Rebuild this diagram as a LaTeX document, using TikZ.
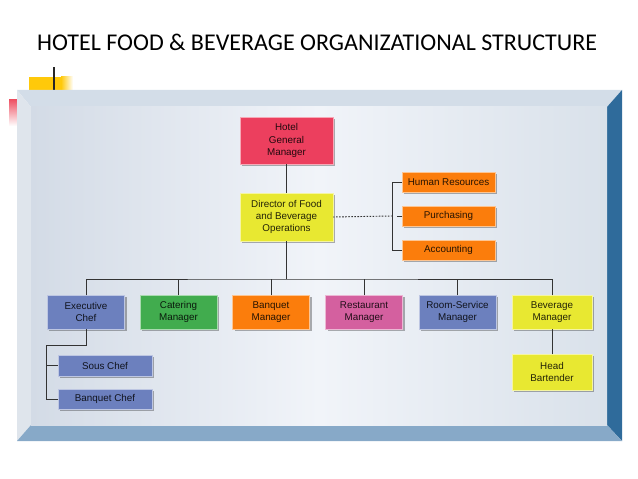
\documentclass[tikz,border=0pt]{standalone}
\usepackage{fontspec}
\setmainfont{Liberation Sans}
\newfontfamily\titlefont{Carlito}
\usetikzlibrary{shadows}

\definecolor{gmred}{HTML}{EC3F5E}
\definecolor{opsyellow}{HTML}{E8E831}
\definecolor{svcorange}{HTML}{FB7D0C}
\definecolor{chefblue}{HTML}{6C80BE}
\definecolor{catgreen}{HTML}{41AC4E}
\definecolor{restpink}{HTML}{D4609F}
\definecolor{bevtop}{HTML}{D3DDE8}
\definecolor{bevleft}{HTML}{DFE5EC}
\definecolor{bevright}{HTML}{2F6B9B}
\definecolor{bevbottom}{HTML}{87A9C8}
\definecolor{panelleft}{HTML}{D3DBE6}
\definecolor{panelmid}{HTML}{F1F4F9}
\definecolor{panelright}{HTML}{D9E1EA}
\definecolor{accyellow}{HTML}{FFC90A}
\definecolor{accpink}{HTML}{EE5466}

\newcommand{\boxfont}{\fontsize{8.4}{10.4}\selectfont}

\tikzset{
  unit/.style={draw=white!55!#1, line width=0.5pt, fill=#1, text=#1!15!black,
    font=\boxfont, align=center, inner sep=0pt, outer sep=0pt,
    minimum width=2.31cm, minimum height=1.02cm,
    drop shadow={shadow xshift=0.06cm, shadow yshift=-0.06cm, fill=black, fill opacity=0.3, draw opacity=0}},
  wideunit/.style={unit=#1, minimum width=2.79cm, minimum height=0.6cm},
  link/.style={draw=black!80, line width=0.8pt},
}

\begin{document}
\begin{tikzpicture}[x=0.03cm,y=-0.03cm,line cap=rect,line join=miter]
  \useasboundingbox (0,0) rectangle (638,479);

  % title and corner marks
  \node[font=\titlefont\fontsize{20.5}{23}\selectfont, anchor=base west, inner sep=0pt] (title) at (37,51)
    {HOTEL FOOD \& BEVERAGE ORGANIZATIONAL STRUCTURE};
  \fill[accyellow] (29,77) rectangle (61,90);
  \shade[left color=accyellow, right color=white] (61,77) rectangle (73,90);
  \draw[line width=1.1pt, black!85] (54,68) -- (54,90);
  \shade[top color=accpink, bottom color=white] (9,100) rectangle (17,126);

  % frame
  \fill[bevtop] (17,90) -- (622,90) -- (607,107) -- (31,107) -- cycle;
  \fill[bevleft] (17,90) -- (31,107) -- (31,425) -- (17,441) -- cycle;
  \fill[bevright] (622,90) -- (622,441) -- (607,425) -- (607,107) -- cycle;
  \fill[bevbottom] (17,441) -- (31,425) -- (607,425) -- (622,441) -- cycle;
  \shade[left color=panelleft, right color=panelright, middle color=panelmid] (31,107) rectangle (607,425);

  % top of the chart
  \node[unit=gmred, minimum width=2.79cm, minimum height=1.41cm] (gm) at (286.5,140.5) {Hotel\\General\\Manager};
  \node[unit=opsyellow, minimum width=2.79cm, minimum height=1.44cm] (dir) at (286.5,217) {Director of Food\\and Beverage\\Operations};

  \node[wideunit=svcorange] (hr) at (448.5,182) {Human Resources};
  \node[wideunit=svcorange] (purch) at (448.5,216) {Purchasing};
  \node[wideunit=svcorange] (acct) at (448.5,250) {Accounting};

  % department heads
  \node[unit=chefblue] (exec) at (86,312) {Executive\\Chef};
  \node[unit=catgreen] (cater) at (178.5,312) {Catering\\Manager};
  \node[unit=svcorange] (banq) at (271,312) {Banquet\\Manager};
  \node[unit=restpink] (rest) at (364,312) {Restaurant\\Manager};
  \node[unit=chefblue] (room) at (457.5,312) {Room-Service\\Manager};
  \node[unit=opsyellow, minimum width=2.4cm] (bev) at (552,312) {Beverage\\Manager};

  \node[unit=opsyellow, minimum width=2.4cm, minimum height=1.08cm] (bart) at (552,372) {Head\\Bartender};
  \node[wideunit=chefblue, minimum width=2.82cm, minimum height=0.63cm] (sous) at (105,365.5) {Sous Chef};
  \node[wideunit=chefblue, minimum width=2.82cm] (bchef) at (105,399) {Banquet Chef};

  % connectors
  \coordinate (svc) at (392,216);
  \coordinate (bus) at (286.5,279);
  \coordinate (chefbar) at (46,345);

  \draw[link] (gm) -- (dir);
  \draw[link, line cap=butt, dash pattern=on 1.4pt off 1.2pt] (dir.east) -- (svc);
  \draw[link] (hr.west) -- (hr.west -| svc) -- (acct.west -| svc) -- (acct.west);
  \draw[link] (purch.west) -- ++(-5,0);

  \draw[link] (dir.south) -- (bus);
  \draw[link] (exec.north) |- (bus) -| (bev.north);
  \foreach \dept in {cater,banq,rest,room}
    \draw[link] (\dept.north) -- (\dept.north |- bus);

  \draw[link] (exec.south) |- (chefbar) -- (chefbar |- bchef.west) -- (bchef.west);
  \draw[link] (sous.west -| chefbar) -- (sous.west);
  \draw[link] (bev) -- (bart);
\end{tikzpicture}
\end{document}
